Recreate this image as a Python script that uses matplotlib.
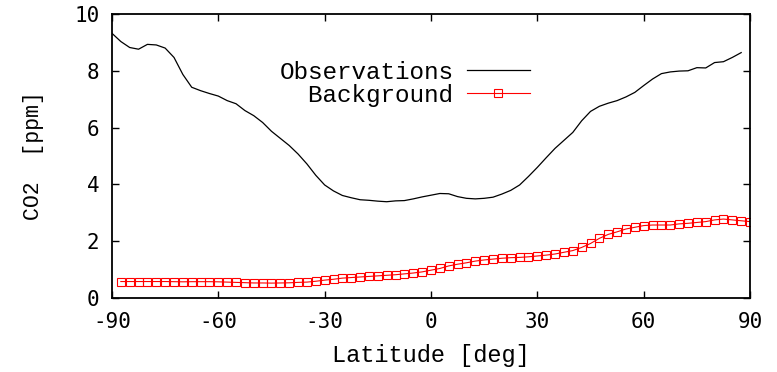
import matplotlib
matplotlib.use('Agg')
import matplotlib.pyplot as plt

plt.rcParams['axes.unicode_minus'] = False

# --- Data ---
# Observations: every 2.5 deg from -90 to 87.5
obs_lat = [-90 + 2.5 * i for i in range(72)]
obs_co2 = [9.32, 9.03, 8.82, 8.76, 8.93, 8.91, 8.80, 8.47, 7.87, 7.42,
           7.30, 7.20, 7.11, 6.95, 6.84, 6.60, 6.42, 6.18, 5.87, 5.62,
           5.37, 5.07, 4.72, 4.32, 3.98, 3.77, 3.61, 3.53, 3.46, 3.44,
           3.41, 3.39, 3.42, 3.43, 3.49, 3.56, 3.62, 3.68, 3.67, 3.57,
           3.51, 3.49, 3.51, 3.55, 3.66, 3.79, 3.98, 4.28, 4.60, 4.94,
           5.27, 5.55, 5.83, 6.24, 6.57, 6.75, 6.86, 6.95, 7.08, 7.24,
           7.48, 7.71, 7.90, 7.96, 7.99, 8.00, 8.11, 8.10, 8.29, 8.32,
           8.47, 8.64]

# Background: every 2.5 deg from -87.5 to 90
bg_lat = [-87.5 + 2.5 * i for i in range(72)]
bg_co2 = [0.58, 0.58, 0.58, 0.58, 0.58, 0.58, 0.575, 0.57, 0.575, 0.575,
          0.575, 0.57, 0.56, 0.55, 0.54, 0.53, 0.53, 0.525, 0.53, 0.535,
          0.55, 0.56, 0.59, 0.63, 0.66, 0.70, 0.72, 0.74, 0.76, 0.78,
          0.80, 0.82, 0.85, 0.88, 0.92, 0.98, 1.04, 1.13, 1.19, 1.24,
          1.30, 1.34, 1.37, 1.40, 1.42, 1.43, 1.45, 1.48, 1.51, 1.55,
          1.61, 1.67, 1.78, 1.92, 2.10, 2.24, 2.33, 2.43, 2.49, 2.55,
          2.57, 2.57, 2.57, 2.61, 2.63, 2.66, 2.69, 2.75, 2.78, 2.75,
          2.72, 2.69]

x_ticks = [-90, -60, -30, 0, 30, 60, 90]
y_ticks = [0, 2, 4, 6, 8, 10]

TEXT_FONT = 'Liberation Mono'
TICK_FONT = 'DejaVu Sans Mono'

fig = plt.figure(figsize=(7.77, 3.72), dpi=100)
ax = fig.add_axes([0.1441, 0.1989, 0.8212, 0.7635])

ax.plot(obs_lat, obs_co2, color='black', linewidth=0.9, label='Observations')
ax.plot(bg_lat, bg_co2, color='red', linewidth=0.8, marker='s', markersize=5.2,
        markerfacecolor='none', markeredgecolor='red', markeredgewidth=0.8,
        label='  Background')

ax.set_xlim(-90, 90)
ax.set_ylim(0, 10)
ax.set_xticks(x_ticks)
ax.set_yticks(y_ticks)
ax.tick_params(direction='in', length=5, width=1.0, top=True, right=True,
               labelsize=15)
ax.tick_params(axis='x', pad=10)
ax.tick_params(axis='y', pad=9)
for lab in ax.get_xticklabels() + ax.get_yticklabels():
    lab.set_fontfamily(TICK_FONT)
for s in ax.spines.values():
    s.set_linewidth(1.3)

ax.set_xlabel('Latitude [deg]', fontfamily=TEXT_FONT, fontsize=17, labelpad=9)
ax.set_ylabel('CO2  [ppm]', fontfamily=TEXT_FONT, fontsize=15.5, labelpad=22)

leg = ax.legend(loc='upper right', bbox_to_anchor=(0.655, 0.835),
                frameon=False, markerfirst=False, handlelength=2.6,
                handletextpad=0.55, labelspacing=0.0, borderpad=0,
                borderaxespad=0, numpoints=1,
                prop={'family': TEXT_FONT, 'size': 17.5})

fig.savefig('out.png', dpi=100)
